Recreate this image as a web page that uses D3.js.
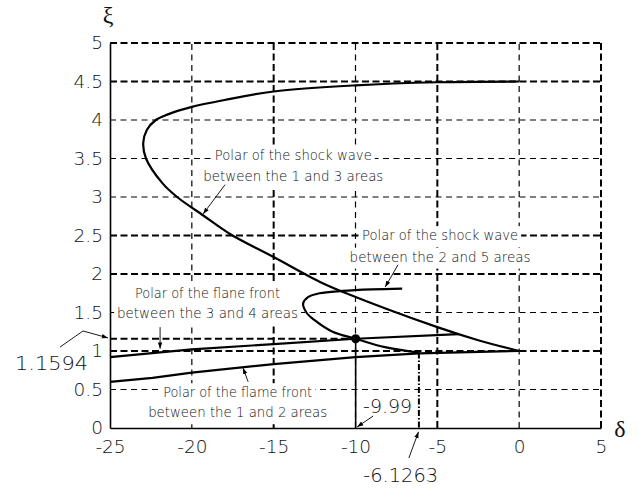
<!DOCTYPE html>
<html><head><meta charset="utf-8">
<script src="https://cdn.jsdelivr.net/npm/d3@7"></script>
<style>body{margin:0;background:#fff}svg{display:block}</style>
</head><body><svg id="c" width="640" height="491"></svg>
<script>
// ---- data ----
const xTicks = [-25, -20, -15, -10, -5, 0, 5];
const xTickLabels = ["-25", "-20", "-15", "-10", "-5", "0", "5"];
const yTicks = [0, 0.5, 1, 1.5, 2, 2.5, 3, 3.5, 4, 4.5, 5];
const yTickLabels = ["0", "0.5", "1", "1.5", "2", "2.5", "3", "3.5", "4", "4.5", "5"];
const xMajorGrid = [-15, -5, 5];
const yMajorGrid = [1, 2, 2.5, 4.5, 5];

// Polar of the shock wave between areas 1 and 3
const shock13 = [[0,4.5],[-5,4.49],[-10,4.45],[-15,4.37],[-18,4.26],[-20,4.17],[-21.5,4.07],[-22.2,4.0],[-22.75,3.87],[-22.97,3.70],[-22.8,3.5],[-21.8,3.18],[-20.9,3.0],[-19.3,2.76],[-17.67,2.52],[-15,2.22],[-12.2,1.9],[-10.8,1.77],[-5,1.31],[-2.5,1.14],[0,1.0]];
// Polar of the shock wave between areas 2 and 5
const shock25 = [[-7.15,1.81],[-9,1.80],[-10.8,1.78],[-12.2,1.75],[-12.9,1.70],[-13.2,1.62],[-13.0,1.5],[-12.5,1.40],[-11.4,1.25],[-9.99,1.1594],[-8.2,1.05],[-6.1263,0.98]];
// Polar of the flame front between areas 1 and 2
const flame12 = [[-25,0.60],[-22.4,0.65],[-20,0.72],[-15,0.83],[-10,0.92],[-6.1263,0.97],[0,1.0]];
// Polar of the flame front between areas 3 and 4
const flame34 = [[-25,0.92],[-20,1.02],[-15,1.09],[-9.99,1.1594],[-3.7,1.22]];

const solution = [-9.99, 1.1594];
const secondPoint = [-6.1263, 0.98];

// annotation texts
const noteShock13 = ["Polar of the shock wave", "between the 1 and 3 areas"];
const noteShock25 = ["Polar of the shock wave", "between the 2 and 5 areas"];
const noteFlame34 = ["Polar of the flane front", "between the 3 and 4 areas"];
const noteFlame12 = ["Polar of the flame front", "between the 1 and 2 areas"];

// ---- drawing ----
const svg = d3.select("#c");
const x = d3.scaleLinear().domain([-25, 5]).range([110, 601]);
const y = d3.scaleLinear().domain([0, 5]).range([428, 43]);

const defs = svg.append("defs");
defs.append("marker").attr("id","ah").attr("viewBox","0 0 10 10").attr("refX",10).attr("refY",5)
  .attr("markerWidth",7).attr("markerHeight",7).attr("orient","auto-start-reverse")
  .append("path").attr("d","M0,1.5 L10,5 L0,8.5 Z").attr("fill","#000");

// grid
const g = svg.append("g");
yTicks.filter(v => v > 0).forEach(v => {
  const major = yMajorGrid.includes(v);
  g.append("line").attr("x1", x(-25)).attr("x2", x(5)).attr("y1", y(v)).attr("y2", y(v))
    .attr("stroke", "#000").attr("stroke-width", major ? 2 : 1.2)
    .attr("stroke-dasharray", major ? "7,3.5" : "6,4.5");
});
xTicks.filter(v => v > -25).forEach(v => {
  const major = xMajorGrid.includes(v);
  g.append("line").attr("x1", x(v)).attr("x2", x(v)).attr("y1", y(0)).attr("y2", y(5))
    .attr("stroke", "#000").attr("stroke-width", major ? 2 : 1.2)
    .attr("stroke-dasharray", major ? "7,3.5" : "6,4.5");
});

// reference lines for the solution
g.append("line").attr("x1", x(-25)).attr("x2", x(solution[0])).attr("y1", y(solution[1])).attr("y2", y(solution[1]))
  .attr("stroke","#000").attr("stroke-width",2).attr("stroke-dasharray","7,3.5");
g.append("line").attr("x1", x(solution[0])).attr("x2", x(solution[0])).attr("y1", y(solution[1])).attr("y2", y(0))
  .attr("stroke","#000").attr("stroke-width",1.6);
g.append("line").attr("x1", x(secondPoint[0])).attr("x2", x(secondPoint[0])).attr("y1", y(secondPoint[1])).attr("y2", y(0))
  .attr("stroke","#000").attr("stroke-width",2).attr("stroke-dasharray","6,2,1.5,2");

// annotation text blocks
const lightFont = "'DejaVu Sans', sans-serif";
function note(lines, cx, baselines, widths) {
  lines.forEach((t, i) => {
    const px = x(cx), py = y(baselines[i]);
    g.append("rect").attr("x", px - widths[i]/2 - 3).attr("y", py - 14).attr("width", widths[i] + 6).attr("height", 21)
      .attr("fill", "#fff");
  });
  lines.forEach((t, i) => {
    g.append("text").attr("x", x(cx)).attr("y", y(baselines[i])).attr("text-anchor","middle")
      .attr("font-family", lightFont).attr("font-weight", 200).attr("font-size", 13.5).attr("fill","#111")
      .attr("textLength", widths[i]).attr("lengthAdjust","spacingAndGlyphs").text(t);
  });
}
note(noteShock13, -13.8, [3.48, 3.21], [157, 180]);
note(noteShock25, -4.83, [2.44, 2.16], [156, 181]);
note(noteFlame34, -19.04, [1.69, 1.43], [145, 181]);
note(noteFlame12, -17.2, [0.40, 0.14], [149, 179]);

// axes
const axL = d3.axisLeft(y).tickValues(yTicks).tickSize(0).tickPadding(7).tickFormat((d,i) => yTickLabels[i]);
const axB = d3.axisBottom(x).tickValues(xTicks).tickSize(0).tickPadding(12).tickFormat((d,i) => xTickLabels[i]);
const gl = svg.append("g").attr("transform", `translate(${x(-25)},0)`).call(axL);
const gb = svg.append("g").attr("transform", `translate(0,${y(0)})`).call(axB);
[gl, gb].forEach(a => {
  a.select(".domain").attr("stroke","#000").attr("stroke-width",1.6);
  a.selectAll("text").attr("font-family", lightFont).attr("font-weight", 200).attr("font-size",18.5).attr("fill","#111");
});

// curves
const smooth = d3.line().x(d => x(d[0])).y(d => y(d[1])).curve(d3.curveCatmullRom.alpha(0.5));
const straight = d3.line().x(d => x(d[0])).y(d => y(d[1]));
svg.append("path").attr("d", smooth(shock13)).attr("fill","none").attr("stroke","#000").attr("stroke-width",2.2);
svg.append("path").attr("d", smooth(shock25)).attr("fill","none").attr("stroke","#000").attr("stroke-width",2.2);
svg.append("path").attr("d", straight(flame12)).attr("fill","none").attr("stroke","#000").attr("stroke-width",2.2);
svg.append("path").attr("d", straight(flame34)).attr("fill","none").attr("stroke","#000").attr("stroke-width",2.2);
svg.append("circle").attr("cx", x(solution[0])).attr("cy", y(solution[1])).attr("r", 4.5).attr("fill","#000");

// arrows
function arrow(pts) {
  svg.append("path").attr("d", straight(pts)).attr("fill","none").attr("stroke","#000").attr("stroke-width",0.9)
    .attr("marker-end","url(#ah)");
}
arrow([[-17.97,3.16],[-19.31,2.78]]);
arrow([[-7.4,2.12],[-8.19,1.83]]);
arrow([[-21.94,1.31],[-21.94,1.03]]);
arrow([[-16.56,0.60],[-16.87,0.78]]);
arrow([[-28.06,1.05],[-26.65,1.26],[-25.12,1.17]]);
arrow([[-8.92,0.156],[-9.9,0.013]]);
arrow([[-6.74,-0.39],[-6.15,-0.05]]);

// value labels
function label(t, xv, yv, anchor, w) {
  svg.append("text").attr("x", x(xv)).attr("y", y(yv)).attr("text-anchor", anchor)
    .attr("font-family", lightFont).attr("font-weight", 200).attr("font-size",19).attr("fill","#111")
    .attr("textLength", w).attr("lengthAdjust","spacingAndGlyphs").text(t);
}
label("1.1594", -26.34, 0.753, "end", 73);
label("-9.99", -8.04, 0.195, "middle", 49);
label("-6.1263", -7.24, -0.70, "middle", 75);

// axis symbols
svg.append("text").attr("x", 108).attr("y", 23).attr("text-anchor","middle")
  .attr("font-family","'Liberation Serif', serif").attr("font-size",24).attr("fill","#111").text("ξ");
svg.append("text").attr("x", 620).attr("y", 437).attr("text-anchor","middle")
  .attr("font-family","'Liberation Serif', serif").attr("font-size",24).attr("fill","#111").text("δ");
</script></body></html>
